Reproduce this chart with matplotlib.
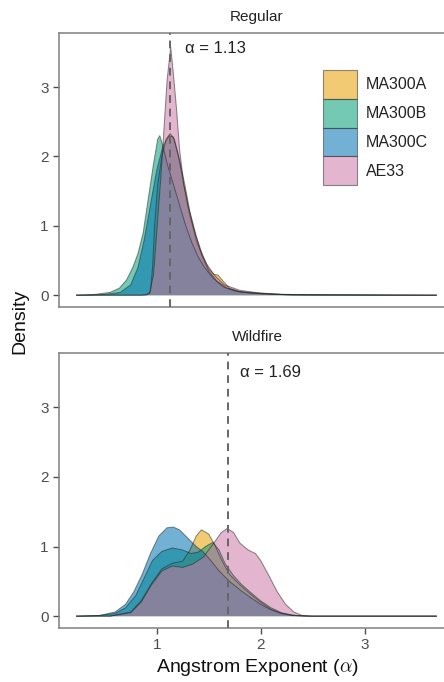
import matplotlib
matplotlib.use("Agg")
import matplotlib.pyplot as plt
from matplotlib.patches import Patch

plt.rcParams["font.family"] = ["Liberation Sans", "DejaVu Sans"]
plt.rcParams["mathtext.fontset"] = "cm"

instruments = ["MA300A", "MA300B", "MA300C", "AE33"]
colors = ["#E69F00", "#009E73", "#0072B2", "#CC79A7"]
panels = ["Regular", "Wildfire"]
medians = [1.13, 1.69]

# density curves, (x, y) pairs per instrument
reg_a_x = [0.23, 0.90, 0.94, 0.96, 0.98, 1.01, 1.05, 1.09, 1.13, 1.17, 1.22, 1.27, 1.32, 1.38, 1.44,
           1.50, 1.55, 1.59, 1.63, 1.70, 1.80, 2.00, 2.20, 2.50, 3.69]
reg_a_y = [0.0, 0.0, 0.05, 0.4, 1.0, 1.6, 2.0, 2.25, 2.33, 2.25, 1.95, 1.6, 1.2, 0.85, 0.58,
           0.38, 0.30, 0.29, 0.22, 0.10, 0.05, 0.03, 0.01, 0.0, 0.0]
reg_b_x = [0.23, 0.40, 0.55, 0.64, 0.71, 0.77, 0.82, 0.87, 0.92, 0.97, 1.01, 1.03, 1.06, 1.10, 1.16,
           1.22, 1.28, 1.34, 1.40, 1.46, 1.54, 1.64, 1.75, 1.90, 2.20, 3.69]
reg_b_y = [0.0, 0.01, 0.04, 0.10, 0.22, 0.40, 0.60, 0.90, 1.40, 1.90, 2.25, 2.30, 2.15, 1.90, 1.60,
           1.30, 1.00, 0.75, 0.55, 0.40, 0.25, 0.12, 0.06, 0.03, 0.01, 0.0]
reg_c_x = [0.23, 0.50, 0.65, 0.75, 0.82, 0.88, 0.94, 1.00, 1.06, 1.12, 1.16, 1.21, 1.26, 1.32, 1.38,
           1.44, 1.50, 1.58, 1.68, 1.80, 2.00, 2.30, 3.69]
reg_c_y = [0.0, 0.01, 0.04, 0.15, 0.40, 0.80, 1.30, 1.80, 2.15, 2.30, 2.28, 2.00, 1.60, 1.15, 0.80,
           0.55, 0.35, 0.20, 0.10, 0.05, 0.02, 0.01, 0.0]
reg_ae_x = [0.23, 0.85, 0.93, 0.97, 1.00, 1.04, 1.07, 1.10, 1.135, 1.16, 1.19, 1.22, 1.26, 1.30, 1.36,
            1.42, 1.48, 1.56, 1.65, 1.80, 2.00, 2.30, 3.69]
reg_ae_y = [0.0, 0.0, 0.02, 0.30, 0.90, 1.70, 2.40, 3.10, 3.58, 3.20, 2.70, 2.10, 1.60, 1.30, 0.95,
            0.65, 0.45, 0.28, 0.15, 0.07, 0.03, 0.0, 0.0]

wf_a_x = [0.23, 0.55, 0.75, 0.85, 0.95, 1.05, 1.15, 1.25, 1.32, 1.38, 1.43, 1.50, 1.56, 1.62,
          1.70, 1.80, 1.90, 2.00, 2.10, 2.20, 2.30, 2.45, 3.69]
wf_a_y = [0.0, 0.0, 0.06, 0.22, 0.47, 0.68, 0.76, 0.79, 0.95, 1.15, 1.24, 1.18, 1.02, 0.82,
          0.60, 0.45, 0.32, 0.20, 0.10, 0.04, 0.01, 0.0, 0.0]
wf_b_x = [0.23, 0.45, 0.60, 0.70, 0.80, 0.88, 0.96, 1.05, 1.15, 1.25, 1.33, 1.40, 1.47, 1.54, 1.60,
          1.66, 1.74, 1.82, 1.92, 2.00, 2.10, 2.20, 2.30, 2.45, 3.69]
wf_b_y = [0.0, 0.01, 0.04, 0.12, 0.30, 0.55, 0.80, 0.93, 0.98, 0.95, 0.90, 0.92, 1.00, 1.06, 0.95,
          0.75, 0.58, 0.45, 0.32, 0.22, 0.12, 0.05, 0.01, 0.0, 0.0]
wf_c_x = [0.23, 0.45, 0.60, 0.70, 0.78, 0.86, 0.94, 1.02, 1.10, 1.16, 1.22, 1.30, 1.38, 1.45, 1.52,
          1.60, 1.70, 1.80, 1.90, 2.00, 2.10, 2.20, 2.35, 2.50, 3.69]
wf_c_y = [0.0, 0.01, 0.06, 0.17, 0.35, 0.60, 0.90, 1.15, 1.27, 1.28, 1.24, 1.12, 1.00, 0.92, 0.80,
          0.65, 0.50, 0.38, 0.27, 0.17, 0.09, 0.04, 0.01, 0.0, 0.0]
wf_ae_x = [0.23, 0.55, 0.75, 0.85, 0.95, 1.05, 1.15, 1.25, 1.35, 1.45, 1.55, 1.62, 1.68, 1.74, 1.80,
           1.88, 1.95, 2.00, 2.08, 2.16, 2.24, 2.32, 2.40, 2.50, 3.69]
wf_ae_y = [0.0, 0.0, 0.05, 0.20, 0.45, 0.65, 0.72, 0.70, 0.75, 0.85, 1.05, 1.20, 1.26, 1.20, 1.05,
           0.95, 0.90, 0.80, 0.58, 0.35, 0.17, 0.06, 0.01, 0.0, 0.0]

curves = {
    "Regular": [(reg_a_x, reg_a_y), (reg_b_x, reg_b_y), (reg_c_x, reg_c_y), (reg_ae_x, reg_ae_y)],
    "Wildfire": [(wf_a_x, wf_a_y), (wf_b_x, wf_b_y), (wf_c_x, wf_c_y), (wf_ae_x, wf_ae_y)],
}

W, H = 444, 682
fig = plt.figure(figsize=(W / 100, H / 100), dpi=100)
ax_boxes = [(59, 33, 396, 274), (59, 353, 396, 275)]  # pixel boxes: left, top, w, h
grey = "#4D4D4D"
ALPHA = 0.55

axes = []
for i, (name, med) in enumerate(zip(panels, medians)):
    l, t, w, h = ax_boxes[i]
    ax = fig.add_axes([l / W, 1 - (t + h) / H, w / W, h / H])
    axes.append(ax)
    for (xs, ys), c in zip(curves[name], colors):
        ax.fill_between(xs, ys, 0, facecolor=c, alpha=ALPHA, linewidth=0)
        ax.plot(xs, ys, color="#222222", alpha=0.5, lw=0.75)
    ax.axvline(med, color="#666666", lw=1.4, ls=(0, (4, 3)), zorder=5)
    ax.text(med + (0.14 if i == 0 else 0.11), 3.55 if i == 0 else 3.5, f"α = {med:.2f}",
            fontsize=12, color="#222222", ha="left", va="center")
    ax.text(0.5, 1 + 16 / h, name, transform=ax.transAxes, ha="center", va="center",
            fontsize=11, color="#222222")
    ax.set_xlim(0.06, 3.87)
    ax.set_ylim(-0.17, 3.78)
    ax.set_yticks([0, 1, 2, 3])
    ax.set_xticks([1, 2, 3])
    ax.tick_params(colors=grey, labelcolor=grey, labelsize=11, length=4, width=1)
    for s in ax.spines.values():
        s.set_color("#7F7F7F")
        s.set_linewidth(1.1)
    if i == 0:
        ax.tick_params(axis="x", bottom=False, labelbottom=False)

handles = [Patch(facecolor=c, alpha=ALPHA, edgecolor="#333333", linewidth=0.8) for c in colors]
leg = axes[0].legend(handles, instruments, loc="upper left",
                     bbox_to_anchor=((323 - 59) / 396, 1 - (70 - 33) / 274),
                     frameon=False, borderpad=0, borderaxespad=0, labelspacing=0,
                     handlelength=2.1, handleheight=2.4, handletextpad=0.6, fontsize=11.5)
for txt in leg.get_texts():
    txt.set_color("#222222")

fig.text(20 / W, 1 - 321 / H, "Density", rotation=90, ha="center", va="center",
         fontsize=14, color="#111111")
fig.text(257 / W, 1 - 668 / H, r"Angstrom Exponent ($\alpha$)", ha="center", va="center",
         fontsize=14, color="#111111")

fig.savefig("out.png", dpi=100, facecolor="white")
